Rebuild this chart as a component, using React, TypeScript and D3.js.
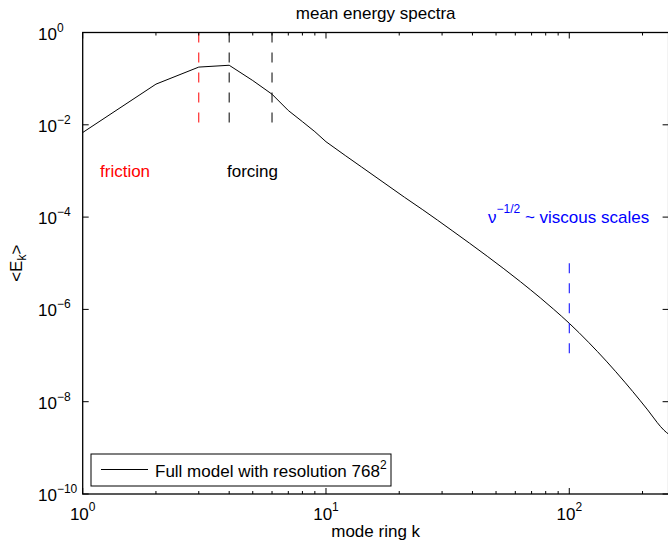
import React from 'react';
import * as d3 from 'd3';

// ── data ────────────────────────────────────────────────────────────
const ringK = [1, 2, 3, 4, 5, 6, 7, 8, 9, 10, 12, 14, 17, 21, 25, 33, 46, 63, 76, 86, 100, 120, 142, 170, 195, 210, 221, 230, 245, 256];
const meanEnergy = [
  6.8e-3, 7.6e-2, 0.178, 0.195, 0.091, 0.046, 0.0204, 0.0117, 7.1e-3, 4.3e-3,
  2.16e-3, 1.22e-3, 5.93e-4, 2.7e-4, 1.44e-4, 5.09e-5, 1.42e-5, 3.98e-6, 1.78e-6, 1.02e-6,
  5.0e-7, 1.94e-7, 7.57e-8, 2.57e-8, 1.08e-8, 6.64e-9, 4.65e-9, 3.52e-9, 2.41e-9, 1.98e-9,
];
// below this wavenumber the spectrum is drawn point to point, above it smoothed
const smoothFromK = 10;

const xMajorTicks = [1, 10, 100];
const xTickExponents = ['0', '1', '2'];
const xMinorTicks = [2, 3, 4, 5, 6, 7, 8, 9, 20, 30, 40, 50, 60, 70, 80, 90, 200];
const yMajorTicks = [1, 1e-2, 1e-4, 1e-6, 1e-8, 1e-10];
const yTickExponents = ['0', '−2', '−4', '−6', '−8', '−10'];

// vertical marker lines: wavenumber, energy span, colour
const markerK = [3, 4, 6, 100];
const markerTop = [1, 1, 1, 1e-5];
const markerBottom = [1e-2, 1e-2, 1e-2, 1e-7];
const markerColor = ['#ff0000', '#000000', '#000000', '#0000ff'];

const FONT = 'Liberation Sans, Arial, Helvetica, sans-serif';
const W = 668, H = 543;
const box = { left: 82.7, right: 668.6, top: 32.5, bottom: 494 };

export default function App() {
  const x = d3.scaleLog().domain([1, 256]).range([box.left, box.right]);
  const y = d3.scaleLog().domain([1e-10, 1]).range([box.bottom, box.top]);

  const pts = ringK.map((k, i) => [k, meanEnergy[i]] as [number, number]);
  const low = pts.filter(p => p[0] <= smoothFromK);
  const high = pts.filter(p => p[0] >= smoothFromK);

  const linearLine = d3.line<[number, number]>()
    .x(d => x(d[0])).y(d => y(d[1]))
    .curve(d3.curveLinear);
  const smoothLine = d3.line<[number, number]>()
    .x(d => x(d[0])).y(d => y(d[1]))
    .curve(d3.curveMonotoneX);

  return (
    <svg width={W} height={H} style={{ position: 'absolute', left: 0, top: 0, background: '#fff' }}
      fontFamily={FONT}>
      <rect x={0} y={0} width={W} height={H} fill="#fff" />

      {/* curve */}
      <path d={linearLine(low) || ''} fill="none" stroke="#000" strokeWidth={1} />
      <path d={smoothLine(high) || ''} fill="none" stroke="#000" strokeWidth={1} />

      {/* dashed markers */}
      {markerK.map((k, i) => (
        <line key={'m' + k} x1={x(k)} x2={x(k)} y1={y(markerTop[i])} y2={y(markerBottom[i])}
          stroke={markerColor[i]} strokeWidth={1} strokeDasharray="10,10" />
      ))}

      {/* axis box */}
      <rect x={box.left} y={box.top} width={box.right - box.left} height={box.bottom - box.top}
        fill="none" stroke="#000" strokeWidth={1.3} />

      {/* x ticks */}
      {xMajorTicks.map(t => (
        <g key={'xM' + t}>
          <line x1={x(t)} x2={x(t)} y1={box.bottom} y2={box.bottom - 6} stroke="#000" />
          <line x1={x(t)} x2={x(t)} y1={box.top} y2={box.top + 6} stroke="#000" />
        </g>
      ))}
      {xMinorTicks.map(t => (
        <g key={'xm' + t}>
          <line x1={x(t)} x2={x(t)} y1={box.bottom} y2={box.bottom - 3} stroke="#000" />
          <line x1={x(t)} x2={x(t)} y1={box.top} y2={box.top + 3} stroke="#000" />
        </g>
      ))}
      {xMajorTicks.map((t, i) => (
        <text key={'xl' + t} x={x(t)} y={520} textAnchor="middle" fontSize={17}>
          10<tspan dy={-9} fontSize={12}>{xTickExponents[i]}</tspan>
        </text>
      ))}

      {/* y ticks */}
      {yMajorTicks.map((t, i) => (
        <g key={'y' + i}>
          <line x1={box.left} x2={box.left + 6} y1={y(t)} y2={y(t)} stroke="#000" />
          <line x1={box.right} x2={box.right - 6} y1={y(t)} y2={y(t)} stroke="#000" />
          <text x={38} y={y(t) + 7} fontSize={17}>
            10<tspan dy={-8} fontSize={12}>{yTickExponents[i]}</tspan>
          </text>
        </g>
      ))}

      {/* titles */}
      <text x={(box.left + box.right) / 2} y={19} textAnchor="middle" fontSize={17}>mean energy spectra</text>
      <text x={(box.left + box.right) / 2} y={537} textAnchor="middle" fontSize={17}>mode ring k</text>
      <text transform={`translate(21.5,${(box.top + box.bottom) / 2}) rotate(-90)`} textAnchor="middle" fontSize={17}>
        &lt;E<tspan dy={4} fontSize={12}>k</tspan><tspan dy={-4}>&gt;</tspan>
      </text>

      {/* annotations */}
      <text x={100} y={177} fontSize={17} fill="#ff0000">friction</text>
      <text x={227} y={177} fontSize={17} fill="#000">forcing</text>
      <text x={488} y={223} fontSize={17} fill="#0000ff">
        ν<tspan dy={-10} fontSize={12}>−1/2</tspan><tspan dy={10}> ~ viscous scales</tspan>
      </text>

      {/* legend */}
      <rect x={91} y={454} width={300} height={32} fill="#fff" stroke="#000" strokeWidth={1} />
      <line x1={101} x2={148} y1={469.5} y2={469.5} stroke="#000" strokeWidth={1} />
      <text x={155} y={477} fontSize={17}>
        Full model with resolution 768<tspan dy={-8} fontSize={12}>2</tspan>
      </text>
    </svg>
  );
}
